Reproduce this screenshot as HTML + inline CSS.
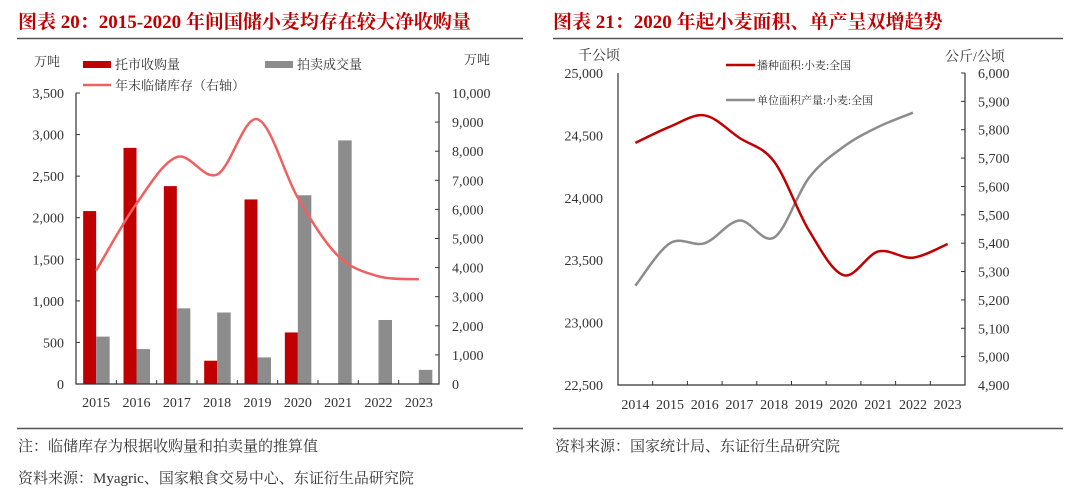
<!DOCTYPE html>
<html><head><meta charset="utf-8"><style>
html,body{margin:0;padding:0;background:#fff;}
svg{display:block;font-family:"Liberation Serif","Noto Serif CJK SC",serif;}
</style></head><body>
<svg id="s" width="1080" height="497" viewBox="0 0 1080 497">
<text x="18" y="28" font-size="19" font-weight="bold" fill="#c00000">图表 20：2015-2020 年间国储小麦均存在较大净收购量</text>
<text x="553" y="28" font-size="19" font-weight="bold" fill="#c00000">图表 21：2020 年起小麦面积、单产呈双增趋势</text>
<line x1="17" y1="38.5" x2="523" y2="38.5" stroke="#555" stroke-width="1.5"/>
<line x1="553" y1="38.5" x2="1063" y2="38.5" stroke="#555" stroke-width="1.5"/>
<line x1="17" y1="428.5" x2="523" y2="428.5" stroke="#555" stroke-width="1.5"/>
<line x1="553" y1="428.5" x2="1063" y2="428.5" stroke="#555" stroke-width="1.5"/>
<text x="18" y="451" font-size="15" fill="#333">注：临储库存为根据收购量和拍卖量的推算值</text>
<text x="18" y="483" font-size="15" fill="#333">资料来源：Myagric、国家粮食交易中心、东证衍生品研究院</text>
<text x="555" y="451" font-size="15" fill="#333">资料来源：国家统计局、东证衍生品研究院</text>
<g id="L"></g><g id="R"></g>
</svg>
<script>
const years1 = ['2015','2016','2017','2018','2019','2020','2021','2022','2023'];
const purchase = [2080,2840,2380,280,2220,620,0,0,0];
const auction = [570,420,910,860,320,2270,2930,770,170];
const stock = [3900,6200,7800,7200,9100,6400,4400,3700,3600];
const leftTicks = [0,500,1000,1500,2000,2500,3000,3500];
const rightTicks1 = [0,1000,2000,3000,4000,5000,6000,7000,8000,9000,10000];

const years2 = ['2014','2015','2016','2017','2018','2019','2020','2021','2022','2023'];
const area = [24440,24570,24660,24480,24290,23740,23380,23570,23520,23630];
const yieldv = [5250,5400,5400,5480,5420,5630,5740,5810,5860,null];
const areaTicks = [22500,23000,23500,24000,24500,25000];
const yieldTicks = [4900,5000,5100,5200,5300,5400,5500,5600,5700,5800,5900,6000];

const NS='http://www.w3.org/2000/svg';
function mk(p,t,a,txt){const e=document.createElementNS(NS,t);for(const k in a)e.setAttribute(k,a[k]);if(txt!=null)e.textContent=txt;p.appendChild(e);return e;}
function smooth(pts){let d='M'+pts[0][0]+','+pts[0][1];for(let i=0;i<pts.length-1;i++){const p0=pts[i-1]||pts[i],p1=pts[i],p2=pts[i+1],p3=pts[i+2]||p2;const t=6;d+=' C'+(p1[0]+(p2[0]-p0[0])/t)+','+(p1[1]+(p2[1]-p0[1])/t)+' '+(p2[0]-(p3[0]-p1[0])/t)+','+(p2[1]-(p3[1]-p1[1])/t)+' '+p2[0]+','+p2[1];}return d;}

// Left chart
const L=document.getElementById('L');
const lx0=76,lx1=439,ly0=384,ly1=93;
const yl=v=>ly0-(v/3500)*(ly0-ly1), yr=v=>ly0-(v/10000)*(ly0-ly1);
const cw=(lx1-lx0)/years1.length;
leftTicks.forEach(v=>{const t=mk(L,'text',{x:64,y:yl(v)+5,'font-size':14,'text-anchor':'end',fill:'#333'},v.toLocaleString('en-US'));


mk(L,'line',{x1:lx0,x2:lx0+4,y1:yl(v),y2:yl(v),stroke:'#333'});});
rightTicks1.forEach(v=>{const t=mk(L,'text',{x:452,y:yr(v)+5,'font-size':14,fill:'#333'},v.toLocaleString('en-US'));


mk(L,'line',{x1:lx1-4,x2:lx1,y1:yr(v),y2:yr(v),stroke:'#333'});});
years1.forEach((y,i)=>{const cx=lx0+cw*(i+0.5);
const r=mk(L,'rect',{x:cx-13,y:yl(purchase[i]),width:13,height:ly0-yl(purchase[i]),fill:'#c00000'});


const g=mk(L,'rect',{x:cx,y:yl(auction[i]),width:13.5,height:ly0-yl(auction[i]),fill:'#8c8c8c'});


const t=mk(L,'text',{x:cx,y:407,'font-size':14,'text-anchor':'middle',fill:'#333'},y);


mk(L,'line',{x1:lx0+cw*(i+1),x2:lx0+cw*(i+1),y1:ly0,y2:ly0-4,stroke:'#333'});});
mk(L,'path',{d:`M${lx0},${ly1}V${ly0}H${lx1}V${ly1}`,fill:'none',stroke:'#333','stroke-width':1.2});
const sl=mk(L,'path',{d:smooth(stock.map((v,i)=>[lx0+cw*(i+0.5),yr(v)])),fill:'none',stroke:'#f06060','stroke-width':2.5});


mk(L,'text',{x:34,y:66,'font-size':13,fill:'#333'},'万吨');
mk(L,'text',{x:464,y:64,'font-size':13,fill:'#333'},'万吨');
mk(L,'rect',{x:83,y:61,width:28,height:7,fill:'#c00000'});
mk(L,'text',{x:115,y:69,'font-size':13,fill:'#333'},'托市收购量');
mk(L,'rect',{x:265,y:61,width:28,height:7,fill:'#8c8c8c'});
mk(L,'text',{x:297,y:69,'font-size':13,fill:'#333'},'拍卖成交量');
mk(L,'line',{x1:83,x2:111,y1:85,y2:85,stroke:'#f06060','stroke-width':2.5});
mk(L,'text',{x:115,y:90,'font-size':13,fill:'#333'},'年末临储库存（右轴）');

// Right chart
const R=document.getElementById('R');
const rx0=618,rx1=965,ry0=385,ry1=73;
const ya=v=>ry0-(v-22500)/2500*(ry0-ry1), yy=v=>ry0-(v-4900)/1100*(ry0-ry1);
const cw2=(rx1-rx0)/years2.length;
areaTicks.forEach(v=>{const t=mk(R,'text',{x:603,y:ya(v)+5,'font-size':14,'text-anchor':'end',fill:'#333'},v.toLocaleString('en-US'));

});
yieldTicks.forEach(v=>{const t=mk(R,'text',{x:978,y:yy(v)+5,'font-size':14,fill:'#333'},v.toLocaleString('en-US'));


mk(R,'line',{x1:rx1-4,x2:rx1,y1:yy(v),y2:yy(v),stroke:'#333'});});
years2.forEach((y,i)=>{const t=mk(R,'text',{x:rx0+cw2*(i+0.5),y:409,'font-size':14,'text-anchor':'middle',fill:'#333'},y);


mk(R,'line',{x1:rx0+cw2*(i+1),x2:rx0+cw2*(i+1),y1:ry0,y2:ry0-4,stroke:'#333'});});
mk(R,'path',{d:`M${rx0},${ry1}V${ry0}H${rx1}V${ry1}`,fill:'none',stroke:'#333','stroke-width':1.2});
const gp=[];yieldv.forEach((v,i)=>{if(v!=null)gp.push([rx0+cw2*(i+0.5),yy(v)]);});
const gl=mk(R,'path',{d:smooth(gp),fill:'none',stroke:'#8c8c8c','stroke-width':2.5});


const al=mk(R,'path',{d:smooth(area.map((v,i)=>[rx0+cw2*(i+0.5),ya(v)])),fill:'none',stroke:'#c00000','stroke-width':2.5});


mk(R,'text',{x:578,y:60,'font-size':14,fill:'#333'},'千公顷');
mk(R,'text',{x:945,y:61,'font-size':14,fill:'#333'},'公斤/公顷');
mk(R,'line',{x1:726,x2:755,y1:65,y2:65,stroke:'#c00000','stroke-width':2.5});
mk(R,'text',{x:757,y:69,'font-size':11,fill:'#333'},'播种面积:小麦:全国');
mk(R,'line',{x1:726,x2:755,y1:100,y2:100,stroke:'#8c8c8c','stroke-width':2.5});
mk(R,'text',{x:757,y:104,'font-size':11,fill:'#333'},'单位面积产量:小麦:全国');
</script>
</body></html>
